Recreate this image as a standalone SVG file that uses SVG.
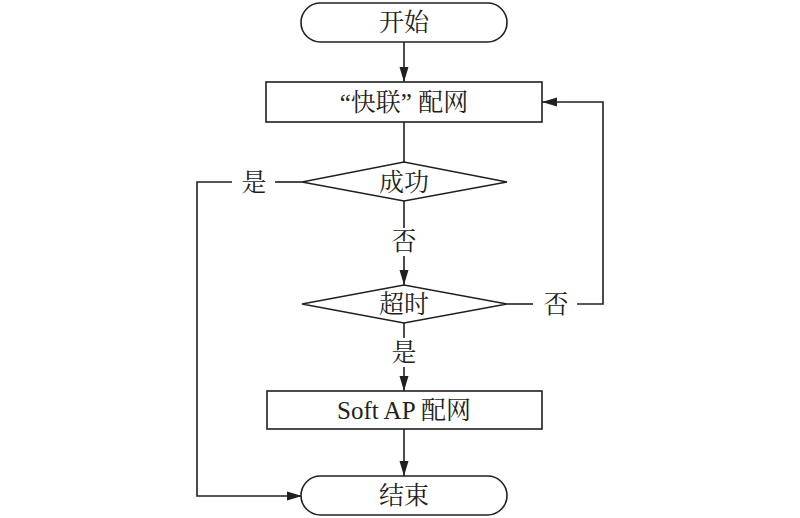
<svg xmlns="http://www.w3.org/2000/svg" width="800" height="518" viewBox="0 0 800 518">
<style>
.s{fill:#fff;stroke:#231f20;stroke-width:1.6}
.c{fill:none;stroke:#231f20;stroke-width:1.6}
text{font-family:"Liberation Serif","Noto Serif CJK SC","Noto Sans CJK SC",serif;font-size:25px;fill:#231f20;text-anchor:middle;dominant-baseline:central}
</style>
<defs>
<marker id="a" viewBox="0 0 15 10" refX="15" refY="5" markerWidth="15" markerHeight="10" markerUnits="userSpaceOnUse" orient="auto"><path d="M0,0.5L15,5L0,9.5z" fill="#231f20"/></marker>
</defs>
<rect width="800" height="518" fill="#fff"/>
<g id="connectors">
<path class="c" d="M404,42V82" marker-end="url(#a)"/>
<path class="c" d="M404,122V162"/>
<path class="c" d="M404,201V228"/>
<path class="c" d="M404,256V285" marker-end="url(#a)"/>
<path class="c" d="M404,323V338"/>
<path class="c" d="M404,367V391" marker-end="url(#a)"/>
<path class="c" d="M404,429V476" marker-end="url(#a)"/>
<path class="c" d="M302,182H275"/>
<path class="c" d="M232,182H197V496H302" marker-end="url(#a)"/>
<path class="c" d="M507,304H533"/>
<path class="c" d="M577,304H603V102H542" marker-end="url(#a)"/>
<text x="254" y="182">是</text>
<text x="404" y="241">否</text>
<text x="556" y="304">否</text>
<text x="404" y="352">是</text>
</g>
<g id="start"><rect class="s" x="301" y="3" width="206" height="39" rx="19.5"/><text x="404" y="22">开始</text></g>
<g id="quick"><rect class="s" x="266" y="82" width="276" height="40"/><text x="404" y="102">“快联” 配网</text></g>
<g id="success"><path class="s" d="M302,182L404,162L507,182L404,201z"/><text x="404" y="182">成功</text></g>
<g id="timeout"><path class="s" d="M302,304L404,285L507,304L404,323z"/><text x="404" y="304">超时</text></g>
<g id="softap"><rect class="s" x="267" y="391" width="275" height="38"/><text x="404" y="410">Soft AP 配网</text></g>
<g id="end"><rect class="s" x="301" y="476" width="206" height="39" rx="19.5"/><text x="404" y="495">结束</text></g>
</svg>
